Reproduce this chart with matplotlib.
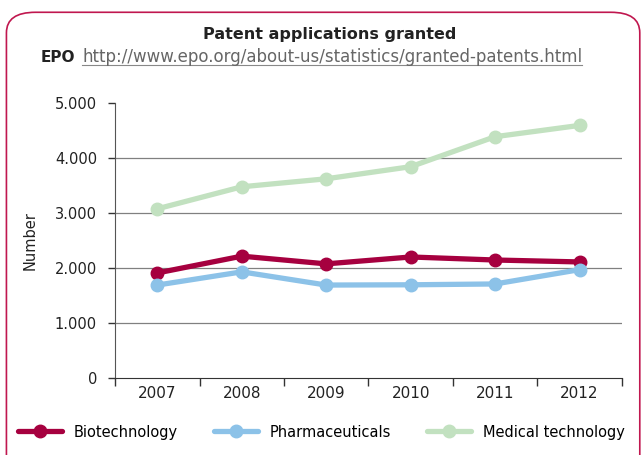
import matplotlib
matplotlib.use("Agg")
import matplotlib.pyplot as plt
from matplotlib.patches import FancyBboxPatch
from matplotlib.ticker import FuncFormatter

years = ["2007", "2008", "2009", "2010", "2011", "2012"]
biotech = [1910, 2215, 2075, 2200, 2145, 2110]
pharma = [1690, 1930, 1690, 1695, 1710, 1970]
medtech = [3075, 3475, 3620, 3840, 4385, 4590]

series_names = ["Biotechnology", "Pharmaceuticals", "Medical technology"]
series_colors = ["#A6003F", "#8CC2E8", "#C2E1C0"]

fig = plt.figure(figsize=(6.43, 4.55), dpi=100)

# rounded frame round the whole chart
frame = FancyBboxPatch((0.01, -0.05), 0.985, 1.023, boxstyle="round,pad=0,rounding_size=0.045",
                       transform=fig.transFigure, fill=False, edgecolor="#C0174F", linewidth=1.2)
fig.patches.append(frame)

ax = fig.add_axes([0.179, 0.169, 0.788, 0.605])
x = list(range(len(years)))
for vals, name, col in zip([biotech, pharma, medtech], series_names, series_colors):
    ax.plot(x, vals, color=col, linewidth=3.8, marker="o", markersize=9, label=name,
            solid_capstyle="round", zorder=3)

for g in [1000, 2000, 3000, 4000]:
    ax.axhline(g, color="#808080", linewidth=0.9, zorder=1)

ax.set_xlim(-0.5, 5.5)
ax.set_ylim(0, 5000)
ax.set_yticks([0, 1000, 2000, 3000, 4000, 5000])
ax.yaxis.set_major_formatter(FuncFormatter(lambda v, p: f"{int(v):,}".replace(",", ".")))
ax.set_xticks(x)
ax.set_xticklabels(years)
ax.set_xticks([i - 0.5 for i in range(len(years) + 1)], minor=True)
ax.tick_params(axis="x", which="major", length=0, labelsize=11, pad=6, colors="#222222")
ax.tick_params(axis="x", which="minor", length=6, width=1, color="#333333")
ax.tick_params(axis="y", length=5, width=1, labelsize=10.5, pad=8, color="#333333",
               labelcolor="#222222")
for s in ["top", "right"]:
    ax.spines[s].set_visible(False)
ax.spines["left"].set_color("#555555")
ax.spines["bottom"].set_color("#333333")
ax.set_ylabel("Number", fontsize=10.5, color="#222222", labelpad=12)

fig.text(0.513, 0.915, "Patent applications granted", ha="center", fontsize=11.5,
         fontweight="bold", color="#222222")
fig.text(0.063, 0.864, "EPO", fontsize=11, fontweight="bold", color="#222222")
url = fig.text(0.128, 0.864, "http://www.epo.org/about-us/statistics/granted-patents.html",
               fontsize=12, color="#666666")

fig.legend(loc="lower center", bbox_to_anchor=(0.5, 0.005), ncol=3, frameon=False,
           fontsize=10.5, handlelength=3, columnspacing=2.5)

# underline the url
fig.canvas.draw()
bb = url.get_window_extent().transformed(fig.transFigure.inverted())
fig.add_artist(plt.Line2D([bb.x0, bb.x1], [bb.y0 + 0.002, bb.y0 + 0.002], color="#888888",
                          linewidth=0.8, transform=fig.transFigure))

fig.savefig("out.png", dpi=100)
